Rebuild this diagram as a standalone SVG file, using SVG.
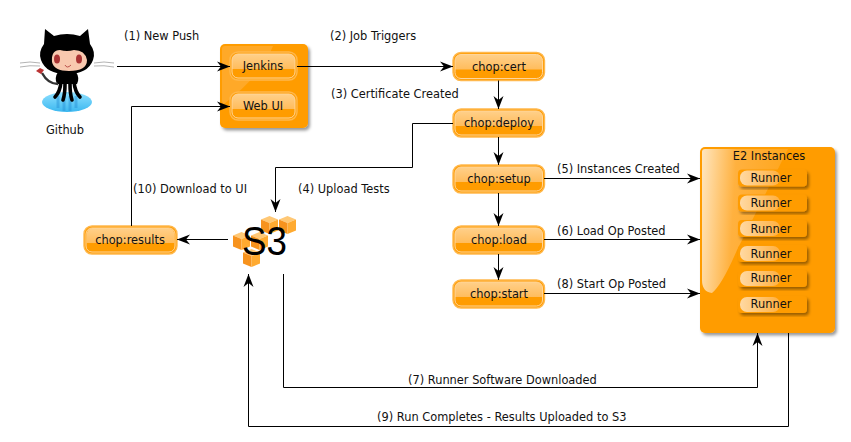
<svg xmlns="http://www.w3.org/2000/svg" width="851" height="442" viewBox="0 0 851 442">
<style>
text{font-family:"DejaVu Sans","Liberation Sans",sans-serif;font-size:11.4px;fill:#111}
.c{text-anchor:middle}
.conn path{fill:none;stroke:#000;stroke-width:1}
.base{fill:#ff9c00;stroke:#ffb84d;stroke-width:1.4}
.inner{fill:none;stroke:#ffd59a;stroke-width:1}
.gloss{fill:url(#gl)}
.rb{fill:#ff9c00;filter:url(#sh)}
.rg{fill:url(#rg)}
</style>
<defs>
<marker id="a" markerUnits="userSpaceOnUse" markerWidth="16" markerHeight="12" refX="13" refY="6" orient="auto"><path d="M0,1L13,6L0,11L4,6Z" fill="#000"/></marker>
<linearGradient id="gl" x1="0" y1="0" x2="0" y2="1"><stop offset="0" stop-color="#ffd08a"/><stop offset="1" stop-color="#ffbc5c"/></linearGradient>
<linearGradient id="rg" x1="0" y1="0" x2="1" y2="0"><stop offset="0" stop-color="#ffd9a3"/><stop offset="1" stop-color="#ffb040"/></linearGradient>
<linearGradient id="pn" x1="0" y1="0" x2="1" y2="0.1"><stop offset="0" stop-color="#ffe6bf"/><stop offset="0.4" stop-color="#ffb13f"/><stop offset="1" stop-color="#ffa61c"/></linearGradient>
<filter id="sh" x="-20%" y="-20%" width="140%" height="140%"><feDropShadow dx="2" dy="2.5" stdDeviation="1.6" flood-color="#000" flood-opacity="0.4"/></filter>
<linearGradient id="w" x1="0" y1="0" x2="0" y2="1"><stop offset="0" stop-color="#8fe0ff"/><stop offset="1" stop-color="#3cb8f0"/></linearGradient>
<g id="cube"><path d="M0,-4.500L8.500,-8L17,-4.500L8.500,-1Z" fill="#ffc875"/><path d="M0,-4.500L8.500,-1V10L0,6.500Z" fill="#f7931e"/><path d="M17,-4.500L8.500,-1V10L17,6.500Z" fill="#ffaa30"/></g>
<path id="g67" class="gloss" d="M0,15V6A6,6 0 0 1 6,0H57A6,6 0 0 1 63,6V15Z"/>
<path id="g92" class="gloss" d="M0,15V6A6,6 0 0 1 6,0H81.500A6,6 0 0 1 87.500,6V15Z"/>
</defs>

<g id="github">
<ellipse cx="67" cy="102" rx="25" ry="10" fill="url(#w)"/>
<path d="M58,108V96M64,111V96M70,111V96M76,108V96" stroke="#2a95d8" stroke-width="3" opacity="0.5"/>
<g fill="none" stroke="#aaa" stroke-width="0.9"><path d="M40,63Q30,61 20,63M40,66Q30,65 20,67"/><path d="M94,63Q104,61 114,63M94,66Q104,65 114,67"/></g>
<path d="M45,29L54,36Q67,32 80,36L88,29L90,44Q96,52 93,60Q88,74 67,74Q46,74 41,60Q38,52 44,44Z" fill="#000"/>
<path d="M58,72H76Q80,78 77,84V84H57Q54,78 58,72Z" fill="#000"/>
<g fill="none" stroke="#000" stroke-width="3.6" stroke-linecap="round"><path d="M61,82Q60,92 55,97"/><path d="M65,84Q65,94 63,100"/><path d="M70,84Q70,94 72,100"/><path d="M74,82Q75,92 80,97"/></g>
<path d="M58,84Q48,84 42,73" fill="none" stroke="#333" stroke-width="2.4"/>
<path d="M52,62Q51,50 60,50Q67,52 74,50Q85,50 87,60Q87,71 69,71Q54,71 52,62Z" fill="#f8c8ae"/>
<ellipse cx="57" cy="59" rx="3" ry="4.500" fill="#a33"/><ellipse cx="79" cy="59" rx="3" ry="4.500" fill="#a33"/>
<path d="M65,65Q67,69 71,65" fill="none" stroke="#a33" stroke-width="0.8"/>
<path d="M36,71L40,68L44,70L41,74Z" fill="#b33"/>
<text class="c" x="65" y="134">Github</text>
</g>

<g id="build">
<rect class="rb" x="220" y="44" width="88" height="84" rx="5"/>
<path d="M222,49Q222,46 225,46H273Q262,75 224,104Q222,104 222,100Z" fill="#ffa928"/>
</g>
<g id="jenkins">
<rect class="base" x="230" y="52" width="67" height="28" rx="8"/><use href="#g67" x="232" y="54"/><rect class="inner" x="232" y="54" width="63" height="24" rx="6"/>
<text class="c" x="263" y="70">Jenkins</text>
</g>
<g id="webui">
<rect class="base" x="230" y="92" width="67" height="28" rx="8"/><use href="#g67" x="232" y="94"/><rect class="inner" x="232" y="94" width="63" height="24" rx="6"/>
<text class="c" x="263" y="110">Web UI</text>
</g>
<g id="cert">
<rect class="base" x="453" y="52.500" width="91.500" height="28" rx="8"/><use href="#g92" x="455" y="54.500"/><rect class="inner" x="455" y="54.500" width="87.500" height="24" rx="6"/>
<text class="c" x="499" y="71">chop:cert</text>
</g>
<g id="deploy">
<rect class="base" x="453" y="109" width="91.500" height="28" rx="8"/><use href="#g92" x="455" y="111"/><rect class="inner" x="455" y="111" width="87.500" height="24" rx="6"/>
<text class="c" x="499" y="127">chop:deploy</text>
</g>
<g id="setup">
<rect class="base" x="453" y="165" width="91.500" height="28" rx="8"/><use href="#g92" x="455" y="167"/><rect class="inner" x="455" y="167" width="87.500" height="24" rx="6"/>
<text class="c" x="499" y="183">chop:setup</text>
</g>
<g id="load">
<rect class="base" x="453" y="226" width="91.500" height="28" rx="8"/><use href="#g92" x="455" y="228"/><rect class="inner" x="455" y="228" width="87.500" height="24" rx="6"/>
<text class="c" x="499" y="244">chop:load</text>
</g>
<g id="start">
<rect class="base" x="453" y="280" width="91.500" height="28" rx="8"/><use href="#g92" x="455" y="282"/><rect class="inner" x="455" y="282" width="87.500" height="24" rx="6"/>
<text class="c" x="499" y="298">chop:start</text>
</g>
<g id="results">
<rect class="base" x="84" y="226" width="93" height="28" rx="8"/><use href="#g92" x="86.750" y="228"/><rect class="inner" x="86" y="228" width="89" height="24" rx="6"/>
<text class="c" x="130" y="244">chop:results</text>
</g>

<g id="s3">
<use href="#cube" x="261" y="224"/><use href="#cube" x="279" y="224"/><use href="#cube" x="233" y="240"/><use href="#cube" x="251" y="240"/><use href="#cube" x="243" y="257"/>
<text x="242" y="255" textLength="45" lengthAdjust="spacingAndGlyphs" style="font-family:'Liberation Sans',sans-serif;font-size:41px;fill:#000">S3</text>
</g>

<g id="e2">
<rect class="rb" x="700" y="147" width="135" height="186" rx="5"/>
<path d="M702,152Q702,149 705,149H788Q770,185 737,250Q722,285 712,293Q702,292 702,280Z" fill="url(#pn)"/>
<text class="c" x="769" y="160">E2 Instances</text>
<g id="r1"><rect class="rb" x="738" y="169.500" width="69" height="17" rx="4"/><rect class="rg" x="740" y="170.500" width="40" height="15" rx="7"/><text class="c" x="771" y="182">Runner</text></g>
<g id="r2"><rect class="rb" x="738" y="194.500" width="69" height="17" rx="4"/><rect class="rg" x="740" y="195.500" width="40" height="15" rx="7"/><text class="c" x="771" y="207">Runner</text></g>
<g id="r3"><rect class="rb" x="738" y="220" width="69" height="17" rx="4"/><rect class="rg" x="740" y="221" width="40" height="15" rx="7"/><text class="c" x="771" y="233">Runner</text></g>
<g id="r4"><rect class="rb" x="738" y="245" width="69" height="17" rx="4"/><rect class="rg" x="740" y="246" width="40" height="15" rx="7"/><text class="c" x="771" y="258">Runner</text></g>
<g id="r5"><rect class="rb" x="738" y="270" width="69" height="17" rx="4"/><rect class="rg" x="740" y="271" width="40" height="15" rx="7"/><text class="c" x="771" y="282">Runner</text></g>
<g id="r6"><rect class="rb" x="738" y="296" width="69" height="17" rx="4"/><rect class="rg" x="740" y="297" width="40" height="15" rx="7"/><text class="c" x="771" y="308">Runner</text></g>
</g>

<g class="conn">
<path d="M117,66.500H230" marker-end="url(#a)"/>
<path d="M297,66.500H453" marker-end="url(#a)"/>
<path d="M131.500,226V106.500H230" marker-end="url(#a)"/>
<path d="M498.500,80.500V109" marker-end="url(#a)"/>
<path d="M498.500,137V165" marker-end="url(#a)"/>
<path d="M498.500,193V226" marker-end="url(#a)"/>
<path d="M498.500,254V280" marker-end="url(#a)"/>
<path d="M453,123.500H412.500V167.500H275.500V212" marker-end="url(#a)"/>
<path d="M544,178.500H700" marker-end="url(#a)"/>
<path d="M544,239.500H700" marker-end="url(#a)"/>
<path d="M544,293.500H700" marker-end="url(#a)"/>
<path d="M228,239.500H177" marker-end="url(#a)"/>
<path d="M283.500,274V387.500H757.500V333" marker-end="url(#a)"/>
<path d="M788.500,333V426.500H248.500V274" marker-end="url(#a)"/>
</g>
<g id="labels">
<text x="124" y="40">(1) New Push</text>
<text x="330" y="40">(2) Job Triggers</text>
<text x="331" y="98">(3) Certificate Created</text>
<text x="298" y="193">(4) Upload Tests</text>
<text x="557" y="173">(5) Instances Created</text>
<text x="557" y="235">(6) Load Op Posted</text>
<text x="408" y="384">(7) Runner Software Downloaded</text>
<text x="557" y="288">(8) Start Op Posted</text>
<text x="377" y="421">(9) Run Completes - Results Uploaded to S3</text>
<text x="133" y="193">(10) Download to UI</text>
</g>
</svg>
